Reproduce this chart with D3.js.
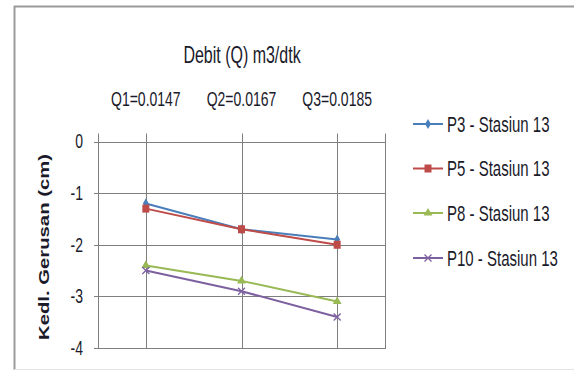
<!DOCTYPE html>
<html>
<head>
<meta charset="utf-8">
<script src="https://cdn.jsdelivr.net/npm/d3@7"></script>
<style>
  html, body { margin: 0; padding: 0; background: #fff; }
  svg { display: block; }
  text { font-family: "Liberation Sans", Arial, sans-serif; fill: #1a1a2a; }
</style>
</head>
<body>
<svg id="chart" width="574" height="374"></svg>
<script>
// Debit categories along the top axis
const categories = ["Q1=0.0147", "Q2=0.0167", "Q3=0.0185"];
// Scour depth (cm) at each discharge, one array per measuring point
const seriesNames = ["P3 - Stasiun 13", "P5 - Stasiun 13", "P8 - Stasiun 13", "P10 - Stasiun 13"];
const p3 = [-1.2, -1.7, -1.9];
const p5 = [-1.3, -1.7, -2.0];
const p8 = [-2.4, -2.7, -3.1];
const p10 = [-2.5, -2.9, -3.4];
const yTicks = [0, -1, -2, -3, -4];
const chartTitle = "Debit (Q) m3/dtk";
const yTitle = "Kedl. Gerusan (cm)";

const seriesValues = [p3, p5, p8, p10];
const colors = ["#4a7ebb", "#be4b48", "#98b954", "#7d60a0"];
const markers = ["diamond", "square", "triangle", "cross"];

const SY = 1.45; // vertical text stretch
const svg = d3.select("#chart");

// outer chart frame
svg.append("line").attr("x1", 14.5).attr("x2", 14.5).attr("y1", 6).attr("y2", 370)
  .attr("stroke", "#9a9a9a").attr("stroke-width", 2);
svg.append("line").attr("x1", 14).attr("x2", 574).attr("y1", 6.5).attr("y2", 6.5)
  .attr("stroke", "#9a9a9a").attr("stroke-width", 2);
svg.append("line").attr("x1", 14).attr("x2", 574).attr("y1", 369.5).attr("y2", 369.5)
  .attr("stroke", "#e2e2e2").attr("stroke-width", 1);

const plot = { left: 98, right: 385, top: 141.5, bottom: 348 };

const x = d3.scaleBand().domain(categories).range([plot.left, plot.right]);
const y = d3.scaleLinear().domain([-4, 0]).range([plot.bottom, plot.top]);
const cx = c => x(c) + x.bandwidth() / 2;

const gridColor = "#7f7f7f";
const g = svg.append("g");

// horizontal gridlines
g.selectAll("line.h").data(yTicks).join("line")
  .attr("x1", plot.left - 4).attr("x2", plot.right)
  .attr("y1", d => Math.round(y(d)) + 0.5).attr("y2", d => Math.round(y(d)) + 0.5)
  .attr("stroke", gridColor).attr("stroke-width", 1);

// vertical lines: plot edges and category gridlines
const vx = [plot.left, ...categories.map(cx), plot.right];
g.selectAll("line.v").data(vx).join("line")
  .attr("x1", d => Math.round(d) + 0.5).attr("x2", d => Math.round(d) + 0.5)
  .attr("y1", plot.top - 8).attr("y2", plot.bottom + 1)
  .attr("stroke", gridColor).attr("stroke-width", 1);

// y tick labels
g.selectAll("text.yt").data(yTicks).join("text")
  .attr("transform", d => `translate(83,${y(d)}) scale(1,${SY})`)
  .attr("text-anchor", "end").attr("dominant-baseline", "central")
  .attr("font-size", 14).attr("fill", "#333")
  .text(d => d);

// category labels above the plot
g.selectAll("text.cat").data(categories).join("text")
  .attr("transform", d => `translate(${cx(d)},99) scale(1,${SY})`)
  .attr("text-anchor", "middle").attr("dominant-baseline", "central")
  .attr("font-size", 14)
  .text(d => d);

// axis title
svg.append("text")
  .attr("transform", `translate(242,55) scale(1,${SY})`)
  .attr("text-anchor", "middle").attr("dominant-baseline", "central")
  .attr("font-size", 16)
  .text(chartTitle);

// y-axis title
svg.append("text")
  .attr("transform", `translate(44,247) scale(1,${SY}) rotate(-90)`)
  .attr("text-anchor", "middle").attr("dominant-baseline", "central")
  .attr("font-size", 14).attr("font-weight", "bold").attr("fill", "#111")
  .text(yTitle);

function drawMarker(sel, type, color) {
  if (type === "diamond") {
    sel.append("path").attr("d", d3.symbol(d3.symbolDiamond, 30)()).attr("fill", color);
  } else if (type === "square") {
    sel.append("rect").attr("x", -3.5).attr("y", -4).attr("width", 7).attr("height", 8).attr("fill", color);
  } else if (type === "triangle") {
    sel.append("path").attr("d", d3.symbol(d3.symbolTriangle, 34)()).attr("fill", color);
  } else {
    sel.append("path").attr("d", "M-3.5,-3.5L3.5,3.5M-3.5,3.5L3.5,-3.5")
      .attr("stroke", color).attr("stroke-width", 1.3).attr("fill", "none");
  }
}

// series lines and markers
const line = d3.line().x((d, i) => cx(categories[i])).y(d => y(d));
seriesValues.forEach((vals, s) => {
  svg.append("path").datum(vals).attr("d", line)
    .attr("fill", "none").attr("stroke", colors[s]).attr("stroke-width", 2);
  vals.forEach((v, i) => {
    const m = svg.append("g").attr("transform", `translate(${cx(categories[i])},${y(v)})`);
    drawMarker(m, markers[s], colors[s]);
  });
});

// legend
const legendY = [124, 168.5, 213, 258];
seriesNames.forEach((name, s) => {
  const lg = svg.append("g").attr("transform", `translate(0,${legendY[s]})`);
  lg.append("line").attr("x1", 413).attr("x2", 443).attr("y1", 0).attr("y2", 0)
    .attr("stroke", colors[s]).attr("stroke-width", 2);
  const m = lg.append("g").attr("transform", "translate(428,0)");
  drawMarker(m, markers[s], colors[s]);
  lg.append("text")
    .attr("transform", `translate(447,0) scale(1,${SY})`)
    .attr("dominant-baseline", "central")
    .attr("font-size", 15)
    .text(name);
});
</script>
</body>
</html>
